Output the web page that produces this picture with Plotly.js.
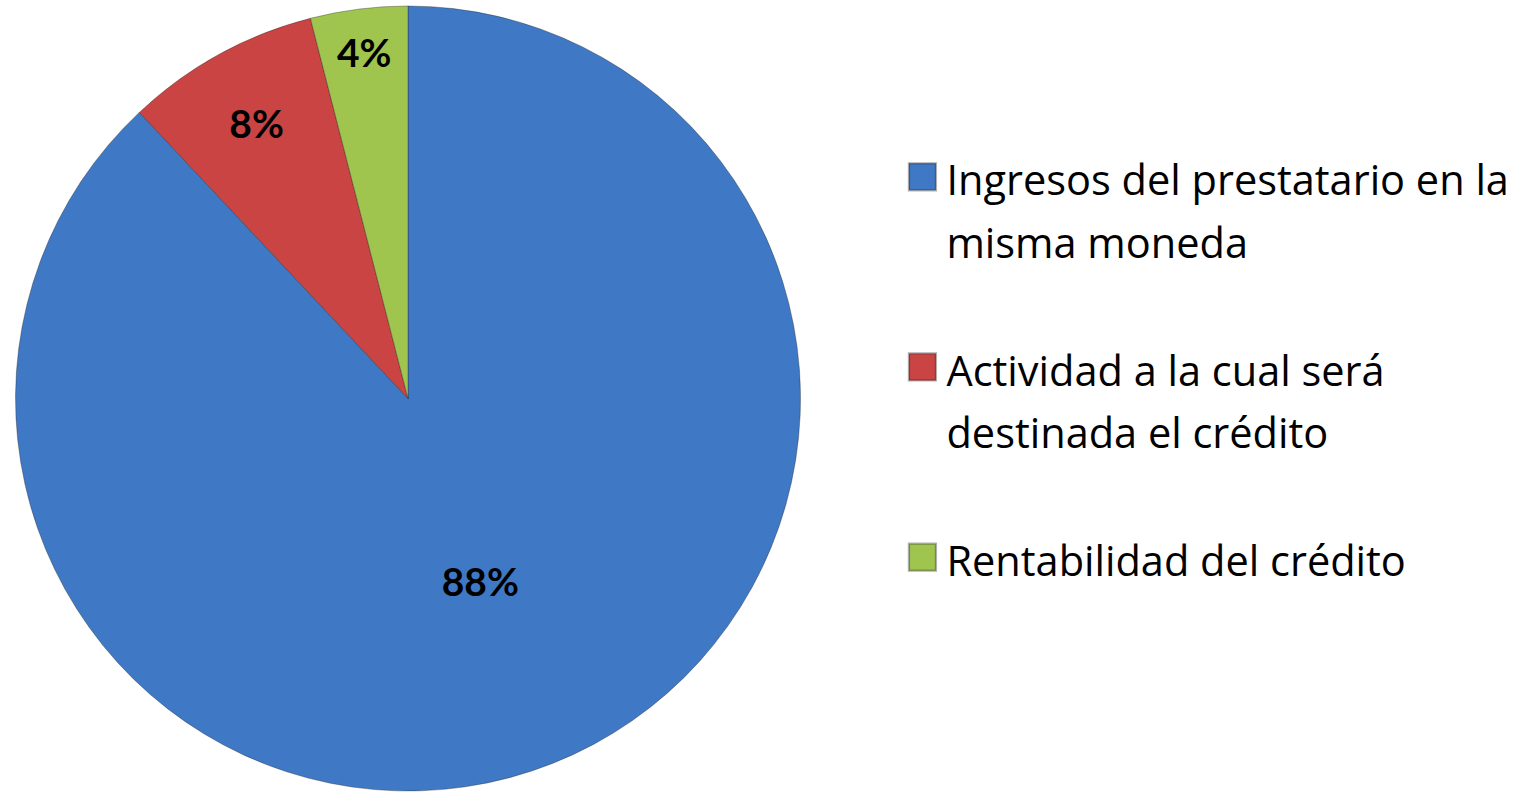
<!DOCTYPE html>
<html>
<head>
<meta charset="utf-8">
<script src="https://cdn.plot.ly/plotly-3.0.1.min.js"></script>
<style>
  html, body { margin: 0; padding: 0; background: #ffffff; }
  #chart { width: 1529px; height: 793px; }
  .legendtext { font-variant-ligatures: none; }
  .legendpie { transform: translate(24px, 0px) scale(2.25) !important; }
</style>
</head>
<body>
<div id="chart"></div>
<script>
const categories = [
  "Ingresos del prestatario en la<br>misma moneda<br>&nbsp;",
  "Actividad a la cual será<br>destinada el crédito<br>&nbsp;",
  "Rentabilidad del crédito"
];
const shares = [88, 8, 4];
const sliceColors = ["#3F78C4", "#C94443", "#A0C54F"];

const legendLabels = categories.map(function (c) {
  return c.split("<br>").map(function (line) {
    return '<span style="font-size:41.5px">' + line + '</span>';
  }).join("<br>");
});

const trace = {
  type: "pie",
  labels: legendLabels,
  values: shares,
  sort: false,
  direction: "clockwise",
  rotation: 0,
  marker: { colors: sliceColors, line: { color: "rgba(30,30,30,0.35)", width: 1 } },
  textinfo: "percent",
  texttemplate: "%{percent:.0%}",
  textposition: "inside",
  insidetextorientation: "horizontal",
  textfont: { family: "Lato, sans-serif", size: 39, color: "#000000", weight: "bold" },
  hoverinfo: "label+percent",
  domain: { x: [0, 0.5337], y: [0, 1] }
};

const layout = {
  width: 1529,
  height: 793,
  margin: { l: 0, r: 0, t: 6, b: 2 },
  paper_bgcolor: "#ffffff",
  plot_bgcolor: "#ffffff",
  showlegend: true,
  legend: {
    x: 0.5876, xanchor: "left",
    y: 0.8305, yanchor: "top",
    valign: "top",
    font: { family: "'Open Sans', sans-serif", size: 48, color: "#000000" },
    bgcolor: "rgba(0,0,0,0)",
    borderwidth: 0,
    itemwidth: 38
  }
};

Plotly.newPlot("chart", [trace], layout, { displayModeBar: false, staticPlot: true });
</script>
</body>
</html>
